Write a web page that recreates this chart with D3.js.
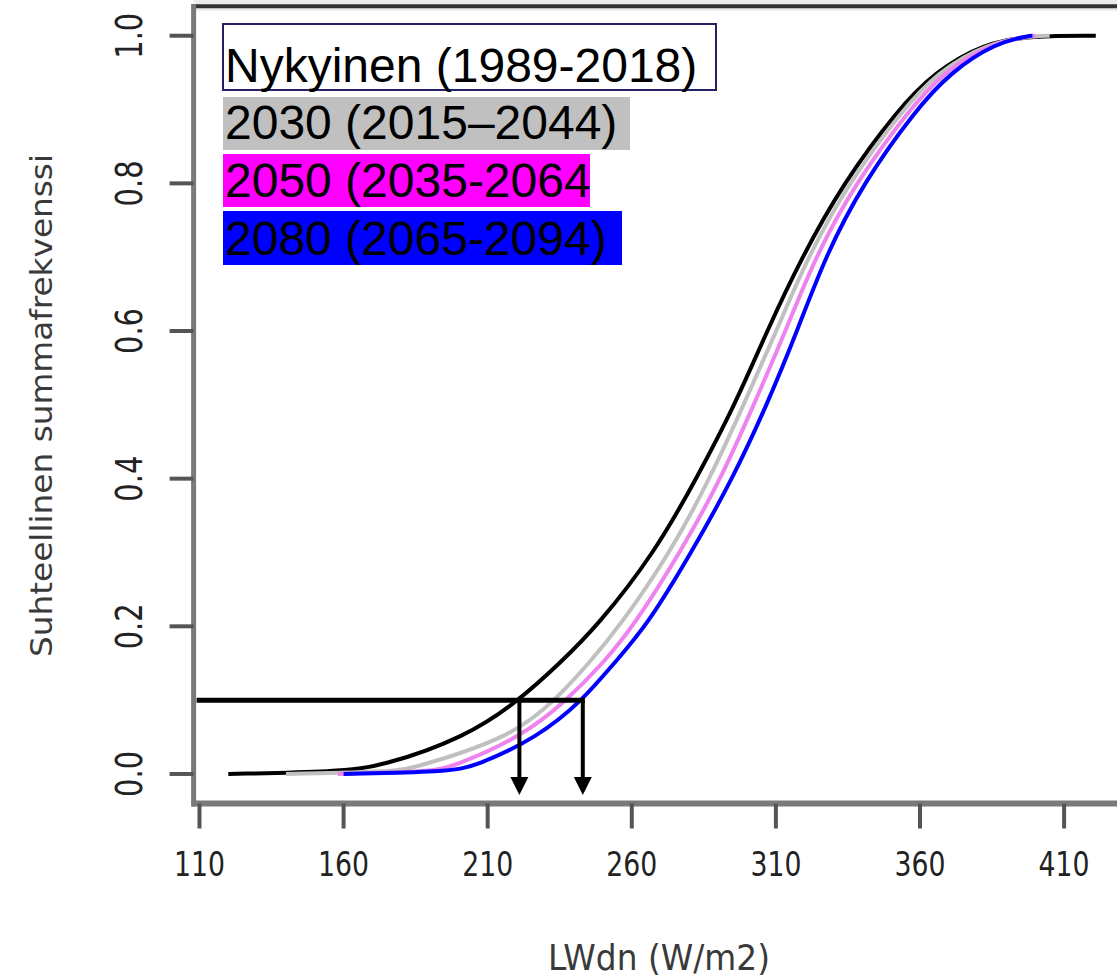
<!DOCTYPE html>
<html>
<head>
<meta charset="utf-8">
<script src="https://cdn.jsdelivr.net/npm/d3@7"></script>
<style>
  body { margin: 0; background: #fff; }
  #holder { width: 1117px; height: 977px; }
</style>
</head>
<body>
<div id="holder"></div>
<script>
// cumulative probability levels shared by all series
const probs = [0, 0.003, 0.01, 0.05, 0.1, 0.15, 0.2, 0.3, 0.4, 0.5, 0.6, 0.7, 0.8, 0.9, 0.95, 0.99, 1, 1];
// LWdn values (W/m2) read at each probability level
const nykyinen = [120, 158, 173, 202.5, 221, 235, 248, 268, 282.4, 295.8, 306.9, 319, 333.3, 352.3, 364.9, 382, 399, 421];
const s2030 = [140, 178, 186, 218.2, 233.5, 245.1, 255.8, 273.4, 287.1, 298.8, 310.2, 321, 335.1, 354, 366, 383, 400, 405];
const s2050 = [158, 190, 198, 221.6, 237.5, 250, 260.6, 276.8, 291, 302.3, 313.4, 323.6, 337.5, 356.3, 368, 384.5, 399, 400];
const s2080 = [160, 196, 205.6, 227.5, 243, 253.8, 265.1, 280.7, 295, 306.9, 317.4, 327, 340.2, 358.6, 370.5, 386, 398, 399];

const seriesNames = ['Nykyinen (1989-2018)', '2030 (2015\u20132044)', '2050 (2035-2064', '2080 (2065-2094)'];
const seriesColors = ['#000000', '#c0c0c0', '#ee82ee', '#0000ff'];
const legendFills = ['#ffffff', '#c0c0c0', '#ff00ff', '#0000ff'];

const xTicks = [110, 160, 210, 260, 310, 360, 410];
const yTicks = [0, 0.2, 0.4, 0.6, 0.8, 1.0];

// 10 % threshold and the two read-off values
const threshold = 0.1;
const arrowVals = [221, 243];

const cfg = {
  width: 1117,
  height: 977,
  axisColor: '#7a7a7a',
  tickColor: '#555',
  textColor: '#222',
  titleColor: '#3a3a3a',
  svg: undefined,
  x: undefined,
  y: undefined
};

function init () {
  cfg.svg = d3.select('#holder').append('svg')
    .attr('width', cfg.width)
    .attr('height', cfg.height);

  // R style 4 % padding around the data range
  cfg.x = d3.scaleLinear().domain([107.96, 433.04]).range([193.6, 1130.5]);
  cfg.y = d3.scaleLinear().domain([-0.04, 1.04]).range([803.5, 6.2]);

  drawFrame();
  drawAxes();
  drawCurves();
  drawArrows();
  drawLegend();
}

function drawFrame () {
  let x = cfg.x, y = cfg.y;
  let svg = cfg.svg;
  svg.append('rect').attr('x', x.range()[0]).attr('y', 0)
    .attr('width', cfg.width).attr('height', 11).attr('fill', '#ececec');
  svg.append('line')
    .attr('x1', x.range()[0]).attr('x2', cfg.width)
    .attr('y1', y.range()[1]).attr('y2', y.range()[1])
    .attr('stroke', '#333').attr('stroke-width', 4);
  svg.append('line')
    .attr('x1', x.range()[0]).attr('x2', x.range()[0])
    .attr('y1', 4).attr('y2', y.range()[0] + 3)
    .attr('stroke', cfg.axisColor).attr('stroke-width', 5);
  svg.append('line')
    .attr('x1', x.range()[0] - 2).attr('x2', cfg.width)
    .attr('y1', y.range()[0]).attr('y2', y.range()[0])
    .attr('stroke', cfg.axisColor).attr('stroke-width', 6);
}

function drawAxes () {
  let x = cfg.x, y = cfg.y;
  let svg = cfg.svg;
  let y0 = y.range()[0];
  let x0 = x.range()[0];

  let gx = svg.append('g').attr('class', 'xaxis');
  gx.selectAll('line').data(xTicks).enter().append('line')
    .attr('x1', d => x(d)).attr('x2', d => x(d))
    .attr('y1', y0).attr('y2', y0 + 25)
    .attr('stroke', cfg.tickColor).attr('stroke-width', 4);
  gx.selectAll('text').data(xTicks).enter().append('text')
    .attr('x', d => x(d)).attr('y', 876)
    .attr('text-anchor', 'middle')
    .attr('font-family', 'DejaVu Sans, sans-serif')
    .attr('font-size', 33)
    .attr('textLength', 51).attr('lengthAdjust', 'spacingAndGlyphs')
    .attr('fill', cfg.textColor)
    .text(d => d);

  let gy = svg.append('g').attr('class', 'yaxis');
  gy.selectAll('line').data(yTicks).enter().append('line')
    .attr('x1', x0 - 24).attr('x2', x0)
    .attr('y1', d => y(d)).attr('y2', d => y(d))
    .attr('stroke', cfg.tickColor).attr('stroke-width', 4);
  gy.selectAll('text').data(yTicks).enter().append('text')
    .attr('transform', d => `translate(142,${y(d)}) rotate(-90)`)
    .attr('text-anchor', 'middle')
    .attr('font-family', 'DejaVu Sans, sans-serif')
    .attr('font-size', 37)
    .attr('textLength', 46).attr('lengthAdjust', 'spacingAndGlyphs')
    .attr('fill', cfg.textColor)
    .text(d => d3.format('.1f')(d));

  // axis titles
  svg.append('text')
    .attr('x', 659).attr('y', 970)
    .attr('text-anchor', 'middle')
    .attr('font-family', 'DejaVu Sans, sans-serif')
    .attr('font-size', 35)
    .attr('textLength', 222).attr('lengthAdjust', 'spacingAndGlyphs')
    .attr('fill', cfg.titleColor)
    .text('LWdn (W/m2)');
  svg.append('text')
    .attr('transform', 'translate(52,405.5) rotate(-90)')
    .attr('text-anchor', 'middle')
    .attr('font-family', 'DejaVu Sans, sans-serif')
    .attr('font-size', 30)
    .attr('textLength', 503).attr('lengthAdjust', 'spacingAndGlyphs')
    .attr('fill', cfg.titleColor)
    .text('Suhteellinen summafrekvenssi');
}

function drawCurves () {
  let x = cfg.x, y = cfg.y;
  let line = d3.line()
    .x(d => x(d[0]))
    .y(d => y(d[1]))
    .curve(d3.curveBasis);
  let all = [nykyinen, s2030, s2050, s2080].map(vals => vals.map((v, i) => [v, probs[i]]));
  cfg.svg.append('g').attr('class', 'curves')
    .selectAll('path').data(all).enter().append('path')
    .attr('d', d => line(d))
    .attr('fill', 'none')
    .attr('stroke', (d, i) => seriesColors[i])
    .attr('stroke-width', 4)
    .attr('stroke-linejoin', 'round');
}

function drawArrows () {
  let x = cfg.x, y = cfg.y;
  let g = cfg.svg.append('g').attr('class', 'arrows');
  let yt = y(threshold);
  let tipY = 795;
  g.append('line')
    .attr('x1', x(109)).attr('x2', x(arrowVals[1]) + 2)
    .attr('y1', yt).attr('y2', yt)
    .attr('stroke', '#000').attr('stroke-width', 5);
  g.selectAll('.shaft').data(arrowVals).enter().append('line')
    .attr('class', 'shaft')
    .attr('x1', d => x(d)).attr('x2', d => x(d))
    .attr('y1', yt).attr('y2', tipY - 14)
    .attr('stroke', '#000').attr('stroke-width', 4);
  g.selectAll('.head').data(arrowVals).enter().append('path')
    .attr('class', 'head')
    .attr('d', d => `M${x(d) - 9},${tipY - 18} L${x(d) + 9},${tipY - 18} L${x(d)},${tipY} Z`)
    .attr('fill', '#000');
}

function drawLegend () {
  let g = cfg.svg.append('g').attr('class', 'legend');
  let rows = [
    {top: 24, bottom: 90, right: 716, base: 82},
    {top: 97, bottom: 150, right: 630, base: 139},
    {top: 154, bottom: 207, right: 590, base: 197},
    {top: 211, bottom: 265, right: 622, base: 255}
  ];
  g.selectAll('rect').data(rows).enter().append('rect')
    .attr('x', 223).attr('y', d => d.top)
    .attr('width', d => d.right - 223).attr('height', d => d.bottom - d.top)
    .attr('fill', (d, i) => legendFills[i])
    .attr('stroke', (d, i) => i === 0 ? '#262262' : 'none')
    .attr('stroke-width', 2);
  g.selectAll('text').data(rows).enter().append('text')
    .attr('x', 225).attr('y', d => d.base)
    .attr('font-family', 'Liberation Sans, Arial, sans-serif')
    .attr('font-size', 48)
    .attr('fill', '#000')
    .text((d, i) => seriesNames[i]);
}

init();
</script>
</body>
</html>
